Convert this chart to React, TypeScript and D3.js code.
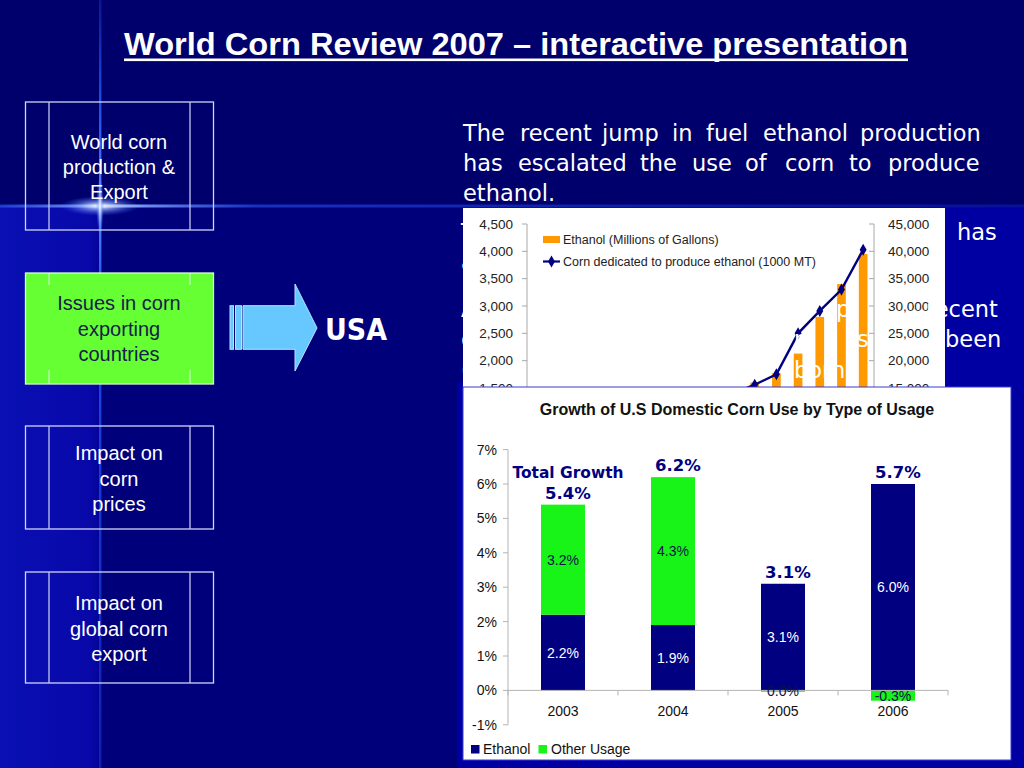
import React from 'react';
import * as d3 from 'd3';

// ---------- DATA ----------
const ethanolYears = ['1990','1991','1992','1993','1994','1995','1996','1997','1998','1999','2000','2001','2002','2003','2004','2005'];
const ethanolGallons = [900, 950, 1100, 1200, 1350, 1400, 1100, 1300, 1400, 1470, 1600, 1770, 2130, 2800, 3400, 3950];
const cornForEthanol = [8900, 10000, 10800, 11600, 13400, 10100, 10900, 12300, 13600, 14000, 15600, 17500, 25000, 29100, 33000, 40300];
const leftAxisTicks = [0, 500, 1000, 1500, 2000, 2500, 3000, 3500, 4000, 4500];
const rightAxisTicks = [0, 5000, 10000, 15000, 20000, 25000, 30000, 35000, 40000, 45000];

const usageYears = ['2003', '2004', '2005', '2006'];
const ethanolGrowth = [2.2, 1.9, 3.1, 6.0];
const otherGrowth = [3.2, 4.3, -0.04, -0.3];
const totalGrowth = [5.4, 6.2, 3.1, 5.7];
const growthTicks = [-1, 0, 1, 2, 3, 4, 5, 6, 7];

const menuItems = [
  ['World corn', 'production &', 'Export'],
  ['Issues in corn', 'exporting', 'countries'],
  ['Impact on', 'corn', 'prices'],
  ['Impact on', 'global corn', 'export'],
];

const paraLines = [
  ['The', 'recent', 'jump', 'in', 'fuel', 'ethanol', 'production'],
  ['has', 'escalated', 'the', 'use', 'of', 'corn', 'to', 'produce'],
  ['ethanol.'],
];

// ---------- LAYOUT ----------
const ARIAL = 'Liberation Sans, Arial, Helvetica, sans-serif';
const TAHOMA = 'DejaVu Sans, Verdana, sans-serif';
const paraWordX = [
  [463, 520, 602, 672, 706, 763, 860],
  [463, 518, 640, 692, 745, 785, 849, 888],
  [463],
];
const paraBaselines = [141, 171, 201];
// fragments of the hidden paragraph text (white text over the chart)
const hiddenFrags: [string, number, number][] = [
  ['T', 461, 240], ['has', 957, 240],
  ['a', 461, 270],
  ['A', 461, 317], ['p', 836, 317], ['recent', 926, 317],
  ['c', 461, 347], ['r', 794, 347], ['s', 857, 347], ['been', 945, 347],
  ['(', 461, 378], ['born', 794, 378],
];
const boxes = [
  { y0: 102, y1: 230, base: [149, 174, 199], green: false },
  { y0: 273, y1: 384, base: [310, 336, 361], green: true },
  { y0: 426, y1: 529, base: [460, 485.5, 511], green: false },
  { y0: 572, y1: 683, base: [610, 636, 661], green: false },
];
const TOP_CHART_CLIP_Y = 387;

export default function App() {
  // ----- top chart scales -----
  const tx = d3.scaleBand<string>().domain(ethanolYears).range([527, 874]).paddingInner(0.6).paddingOuter(0.3);
  const yL = d3.scaleLinear().domain([0, 4500]).range([470, 224]);
  const yR = d3.scaleLinear().domain([0, 45000]).range([470, 224]);
  const cornLine = d3.line<number>()
    .x((_, i) => (tx(ethanolYears[i]) as number) + tx.bandwidth() / 2)
    .y((d) => yR(d));
  const diamond = d3.symbol().type(d3.symbolDiamond).size(42)() as string;
  const fmtK = d3.format(',');
  const visL = leftAxisTicks.filter((t) => yL(t) < TOP_CHART_CLIP_Y + 8);
  const visR = rightAxisTicks.filter((t) => yR(t) < TOP_CHART_CLIP_Y + 8);

  // ----- bottom chart scales -----
  const bx = d3.scaleBand<string>().domain(usageYears).range([508, 948]).paddingInner(0.6).paddingOuter(0.3);
  const by = d3.scaleLinear().domain([-1, 7]).range([724.8, 449.6]);
  const stackData = usageYears.map((y, i) => ({ year: y, ethanol: ethanolGrowth[i], other: otherGrowth[i] }));
  const series = d3.stack<any>().keys(['ethanol', 'other']).offset(d3.stackOffsetDiverging)(stackData);
  const colors: Record<string, string> = { ethanol: '#000080', other: '#18f418' };
  const labelColors: Record<string, string> = { ethanol: '#ffffff', other: '#10104a' };
  const pct = (v: number) => (Math.abs(v) < 0.05 ? 0 : v).toFixed(1) + '%';
  const step = bx.step();
  const boundaries = d3.range(usageYears.length + 1).map((i) => 508 + i * step);

  return (
    <svg width={1024} height={768} viewBox="0 0 1024 768" style={{ position: 'fixed', left: 0, top: 0, display: 'block' }}>
      <defs>
        <radialGradient id="glow" cx="0.5" cy="0.5" r="0.5">
          <stop offset="0" stopColor="#ffffff" stopOpacity="1" />
          <stop offset="0.25" stopColor="#bcd0ff" stopOpacity="0.8" />
          <stop offset="1" stopColor="#3060ff" stopOpacity="0" />
        </radialGradient>
        <linearGradient id="hline" x1="0" x2="1" y1="0" y2="0">
          <stop offset="0" stopColor="#3a6cff" stopOpacity="0.5" />
          <stop offset="0.08" stopColor="#7fa0ff" stopOpacity="0.9" />
          <stop offset="0.1" stopColor="#ffffff" stopOpacity="1" />
          <stop offset="0.14" stopColor="#7fa0ff" stopOpacity="0.9" />
          <stop offset="0.25" stopColor="#2a50f0" stopOpacity="0.6" />
          <stop offset="1" stopColor="#1830d0" stopOpacity="0.35" />
        </linearGradient>
        <linearGradient id="vline" x1="0" x2="0" y1="0" y2="1">
          <stop offset="0" stopColor="#2a5cff" stopOpacity="0.25" />
          <stop offset="0.13" stopColor="#2a5cff" stopOpacity="0.8" />
          <stop offset="0.27" stopColor="#5a86ff" stopOpacity="1" />
          <stop offset="0.4" stopColor="#2a5cff" stopOpacity="0.8" />
          <stop offset="1" stopColor="#1a40e0" stopOpacity="0.5" />
        </linearGradient>
        <linearGradient id="leftStrip" x1="0" x2="1" y1="0" y2="0">
          <stop offset="0" stopColor="#0a10b4" />
          <stop offset="0.9" stopColor="#0808a8" />
          <stop offset="1" stopColor="#04049a" />
        </linearGradient>
        <clipPath id="topChartClip">
          <rect x={455} y={200} width={569} height={TOP_CHART_CLIP_Y - 200} />
        </clipPath>
      </defs>

      {/* background */}
      <rect x={0} y={0} width={1024} height={768} fill="#00006c" />
      <rect x={100} y={206} width={924} height={562} fill="#00007a" />
      <rect x={0} y={206} width={100} height={562} fill="url(#leftStrip)" />
      <rect x={945} y={208} width={79} height={560} fill="#0000a2" />
      <rect x={457} y={382} width={567} height={386} fill="#0000a2" />
      <rect x={99} y={0} width={2.4} height={768} fill="url(#vline)" />
      <rect x={0} y={204.5} width={1024} height={3} fill="url(#hline)" />
      <ellipse cx={100} cy={206} rx={40} ry={10} fill="url(#glow)" />
      <ellipse cx={100} cy={206} rx={4} ry={30} fill="url(#glow)" />

      {/* title */}
      <text x={516} y={55} textAnchor="middle" fill="#ffffff" fontFamily={'Liberation Sans Narrow, ' + ARIAL}
        fontWeight="bold" fontSize={31} textLength={784} lengthAdjust="spacingAndGlyphs">
        World Corn Review 2007 – interactive presentation
      </text>
      <rect x={124} y={58.5} width={784} height={2.6} fill="#ffffff" />

      {/* left menu boxes */}
      {boxes.map((b, i) => (
        <g key={i}>
          <rect x={25.5} y={b.y0} width={188} height={b.y1 - b.y0} fill={b.green ? '#66ff33' : 'none'}
            stroke={b.green ? '#d8ffd0' : '#d2d4f4'} strokeWidth={1.3} />
          {b.green ? (
            <g stroke="#c8ffc0" strokeWidth={1.2}>
              <line x1={49} x2={49} y1={b.y0} y2={b.y0 + 12} />
              <line x1={190} x2={190} y1={b.y0} y2={b.y0 + 12} />
              <line x1={49} x2={49} y1={b.y1 - 14} y2={b.y1} />
              <line x1={190} x2={190} y1={b.y1 - 14} y2={b.y1} />
            </g>
          ) : (
            <g stroke="#c4c6ee" strokeWidth={1.3}>
              <line x1={49} x2={49} y1={b.y0} y2={b.y1} />
              <line x1={190} x2={190} y1={b.y0} y2={b.y1} />
            </g>
          )}
          {menuItems[i].map((t, j) => (
            <text key={j} x={119} y={b.base[j]} textAnchor="middle" fontFamily={ARIAL} fontSize={20}
              fill={b.green ? '#16204a' : '#ffffff'}>{t}</text>
          ))}
        </g>
      ))}

      {/* arrow */}
      <g fill="#66c8ff" stroke="#b8e4ff" strokeWidth={1}>
        <rect x={230} y={305.7} width={3.5} height={43.6} />
        <rect x={235.5} y={305.7} width={6} height={43.6} />
        <path d="M243,305.7 L295,305.7 L295,284 L317,328 L295,371 L295,349.3 L243,349.3 Z" />
      </g>
      <text x={325} y={339.5} fill="#ffffff" fontFamily={TAHOMA} fontWeight="bold" fontSize={30}
        textLength={62} lengthAdjust="spacingAndGlyphs">USA</text>

      {/* paragraph */}
      {paraLines.map((words, li) => (
        <text key={li} y={paraBaselines[li]} fill="#ffffff" fontFamily={TAHOMA} fontSize={22.5}>
          {words.map((w, wi) => (
            <tspan key={wi} x={paraWordX[li][wi]}>{w}</tspan>
          ))}
        </text>
      ))}

      {/* top chart: ethanol production */}
      <g clipPath="url(#topChartClip)">
        <rect x={463} y={208} width={482} height={200} fill="#ffffff" />
        {ethanolGallons.map((v, i) => (
          <rect key={i} x={tx(ethanolYears[i])} y={yL(v)} width={tx.bandwidth()} height={yL(0) - yL(v)} fill="#ff9900" />
        ))}
        <path d={cornLine(cornForEthanol) as string} fill="none" stroke="#000080" strokeWidth={2.4} />
        {cornForEthanol.map((v, i) => (
          <path key={i} d={diamond} fill="#000080"
            transform={`translate(${(tx(ethanolYears[i]) as number) + tx.bandwidth() / 2},${yR(v)})`} />
        ))}
        {/* left axis */}
        <line x1={527} x2={527} y1={yL(4500)} y2={yL(0)} stroke="#a8a8a8" />
        {visL.map((t) => (
          <g key={t}>
            <line x1={522} x2={527} y1={yL(t)} y2={yL(t)} stroke="#a8a8a8" />
            <text x={513} y={yL(t)} dy="0.35em" textAnchor="end" fontFamily={ARIAL} fontSize={13.5} fill="#222">{fmtK(t)}</text>
          </g>
        ))}
        {/* right axis */}
        <line x1={874} x2={874} y1={yR(45000)} y2={yR(0)} stroke="#a8a8a8" />
        {visR.map((t) => (
          <g key={t}>
            <line x1={869} x2={874} y1={yR(t)} y2={yR(t)} stroke="#a8a8a8" />
            <text x={888} y={yR(t)} dy="0.35em" textAnchor="start" fontFamily={ARIAL} fontSize={13.5} fill="#222">{fmtK(t)}</text>
          </g>
        ))}
        {/* legend */}
        <rect x={543} y={236} width={17} height={7} fill="#ff9900" />
        <text x={563} y={243.5} fontFamily={ARIAL} fontSize={12.5} fill="#222">Ethanol (Millions of Gallons)</text>
        <line x1={543} x2={560} y1={261.5} y2={261.5} stroke="#000080" strokeWidth={2.2} />
        <path d={diamond} fill="#000080" transform="translate(551.5,261.5)" />
        <text x={563} y={266} fontFamily={ARIAL} fontSize={12.5} fill="#222">Corn dedicated to produce ethanol (1000 MT)</text>
      </g>

      {/* hidden paragraph text drawn over the chart */}
      {hiddenFrags.map(([t, x, y], i) => (
        <text key={i} x={x} y={y} fill="#ffffff" fontFamily={TAHOMA} fontSize={22.5}>{t}</text>
      ))}

      {/* bottom chart: growth by usage */}
      <rect x={463} y={387} width={548} height={373} fill="#ffffff" stroke="#3a3ad0" strokeWidth={1} />
      <text x={737} y={415} textAnchor="middle" fontFamily={ARIAL} fontWeight="bold" fontSize={16} fill="#111">
        Growth of U.S Domestic Corn Use by Type of Usage
      </text>
      {/* y axis */}
      <line x1={508} x2={508} y1={by(7)} y2={by(-1)} stroke="#b4b4b4" />
      {growthTicks.map((t) => (
        <g key={t}>
          <line x1={503} x2={508} y1={by(t)} y2={by(t)} stroke="#b4b4b4" />
          <text x={497} y={by(t)} dy="0.36em" textAnchor="end" fontFamily={ARIAL} fontSize={14} fill="#111">{t + '%'}</text>
        </g>
      ))}
      {/* bars */}
      {series.map((s) => (
        <g key={s.key}>
          {s.map((d, i) => {
            const top = Math.max(d[0], d[1]);
            const bot = Math.min(d[0], d[1]);
            return (
              <rect key={i} x={bx(usageYears[i])} y={by(top)} width={bx.bandwidth()} height={by(bot) - by(top)} fill={colors[s.key]} />
            );
          })}
        </g>
      ))}
      {/* category axis */}
      <line x1={508} x2={948} y1={by(0)} y2={by(0)} stroke="#b4b4b4" />
      {boundaries.map((x, i) => (
        <line key={i} x1={x} x2={x} y1={by(0)} y2={by(0) + 5} stroke="#b4b4b4" />
      ))}
      {usageYears.map((y) => (
        <text key={y} x={(bx(y) as number) + bx.bandwidth() / 2} y={716} textAnchor="middle" fontFamily={ARIAL} fontSize={14} fill="#111">{y}</text>
      ))}
      {/* segment labels */}
      {series.map((s) => (
        <g key={s.key + 'l'}>
          {s.map((d, i) => (
            <text key={i} x={(bx(usageYears[i]) as number) + bx.bandwidth() / 2} y={by((d[0] + d[1]) / 2)} dy="0.36em"
              textAnchor="middle" fontFamily={ARIAL} fontSize={14} fill={labelColors[s.key]}>
              {pct(s.key === 'ethanol' ? ethanolGrowth[i] : otherGrowth[i])}
            </text>
          ))}
        </g>
      ))}
      {/* total labels */}
      {usageYears.map((y, i) => {
        const top = d3.max(series, (s) => s[i][1]) as number;
        const cx = (bx(y) as number) + bx.bandwidth() / 2 + 5;
        return (
          <g key={y + 't'}>
            {i === 0 && (
              <text x={cx} y={by(top) - 27} textAnchor="middle" fontFamily={TAHOMA} fontWeight="bold" fontSize={15.5}
                textLength={111} lengthAdjust="spacingAndGlyphs" fill="#000080">Total Growth</text>
            )}
            <text x={cx} y={by(top) - 6} textAnchor="middle" fontFamily={TAHOMA} fontWeight="bold" fontSize={16.5} fill="#000080">{pct(totalGrowth[i])}</text>
          </g>
        );
      })}
      {/* legend */}
      <rect x={471} y={745} width={8.5} height={8.5} fill={colors.ethanol} />
      <text x={483} y={753.5} fontFamily={ARIAL} fontSize={14} fill="#111">Ethanol</text>
      <rect x={538.5} y={745} width={8.5} height={8.5} fill={colors.other} />
      <text x={551} y={753.5} fontFamily={ARIAL} fontSize={14} fill="#111">Other Usage</text>
    </svg>
  );
}
